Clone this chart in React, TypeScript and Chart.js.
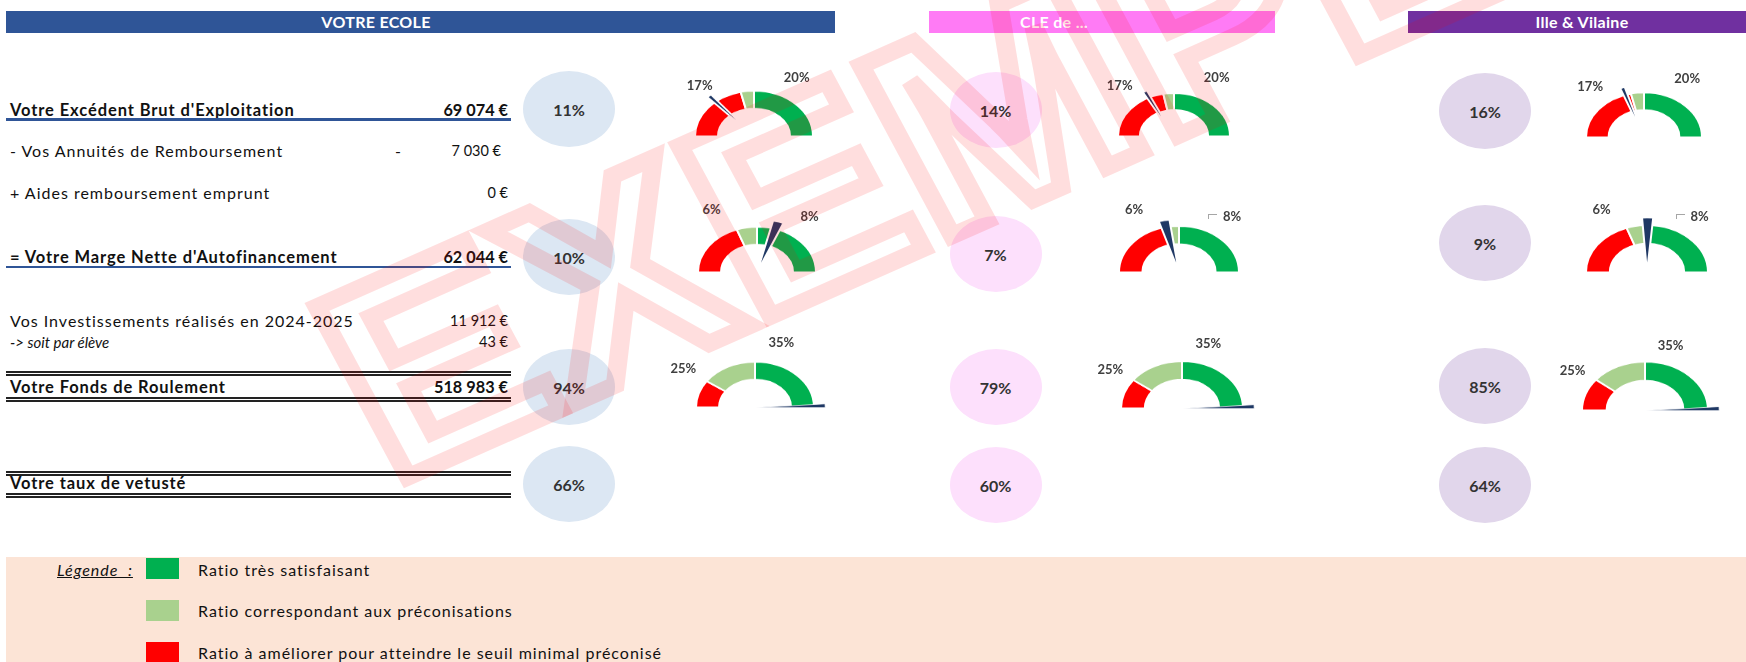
import React, { useEffect, useRef } from "react";
import { Chart, registerables } from "chart.js";

Chart.register(...registerables);

// ---------------- DATA ----------------
const columnTitles = ["VOTRE ECOLE", "CLE de ...", "Ille & Vilaine"];

const rowLabels = [
  "Votre Excédent Brut d'Exploitation",
  "- Vos Annuités de Remboursement",
  "+ Aides remboursement emprunt",
  "= Votre Marge Nette d'Autofinancement",
  "Vos Investissements réalisés en 2024-2025",
  "-> soit par élève",
  "Votre Fonds de Roulement",
  "Votre taux de vetusté",
];
const rowAmounts = ["69 074 €", "7 030 €", "0 €", "62 044 €", "11 912 €", "43 €", "518 983 €", ""];

// ratio bubbles: EBE, MNA, FR, vétusté (in %)
const ecoleRatios = [11, 10, 94, 66];
const cleRatios = [14, 7, 79, 60];
const ivRatios = [16, 9, 85, 64];

// gauge threshold labels per ratio row
const ebeThresholds = ["17%", "20%"];
const mnaThresholds = ["6%", "8%"];
const frThresholds = ["25%", "35%"];

// arc share (out of 180°) of red / light green / green zones, per column
const ebeZones = [[77, 13, 90], [79, 11, 90], [77, 13, 90]];
const mnaZones = [[70, 20, 90], [79, 11, 90], [70.5, 17, 92.5]];
const frZones = [[35, 55, 90], [37, 53, 90], [39, 51, 90]];

// needle position (out of 180°) per column
const ebeNeedle = [49.5, 63.5, 71.5];
const mnaNeedle = [108, 77.5, 90.5];
const frNeedle = [178, 178, 178];
const needleWidths = [4, 9, 4];

const legendItems = [
  "Ratio très satisfaisant",
  "Ratio correspondant aux préconisations",
  "Ratio à améliorer pour atteindre le seuil minimal préconisé",
];

// ---------------- STYLE ----------------
const RED = "#FF0000";
const LGREEN = "#A9D18E";
const GREEN = "#00B050";
const NAVY = "#1F3864";
const FONT = "Lato, 'Open Sans', sans-serif";
const headerColors = ["#2F5597", "#FF7BF5", "#7030A0"];
const bubbleColors = ["#DCE7F3", "#FDE0FC", "#E1D6EB"];
const legendColors = [GREEN, LGREEN, RED];
const needleBorders = [2, 2, 0.8];

const SQUISH = 0.77;

type GaugeProps = {
  cx: number;
  bottom: number;
  R: number;
  zones: number[];
  needle: number;
  needleWidth: number;
  needleBorder: number;
};

function Gauge({ cx, bottom, R, zones, needle, needleWidth, needleBorder }: GaugeProps) {
  const ringRef = useRef<HTMLCanvasElement>(null);
  const needleRef = useRef<HTMLCanvasElement>(null);
  const Rn = Math.round(R * 1.16);
  const W = 2 * Rn;
  const H = Rn;
  const pad = Rn - Math.round(R);

  useEffect(() => {
    const common: any = {
      responsive: false,
      maintainAspectRatio: false,
      animation: false,
      rotation: -90,
      circumference: 180,
      events: [],
      plugins: { legend: { display: false }, tooltip: { enabled: false } },
    };
    const ring = new Chart(ringRef.current!, {
      type: "doughnut",
      data: {
        labels: legendItems.slice().reverse(),
        datasets: [
          {
            data: zones,
            backgroundColor: [RED, LGREEN, GREEN],
            borderColor: "#ffffff",
            borderWidth: 2,
          },
        ],
      },
      options: {
        ...common,
        cutout: "61%",
        layout: { padding: { left: pad, right: pad, top: pad, bottom: 0 } },
      },
    });
    const start = Math.max(0, needle - needleWidth / 2);
    const end = Math.min(180, start + needleWidth);
    const nd = new Chart(needleRef.current!, {
      type: "pie",
      data: {
        labels: ["", "aiguille", ""],
        datasets: [
          {
            data: [start, end - start, 180 - end],
            backgroundColor: ["rgba(0,0,0,0)", NAVY, "rgba(0,0,0,0)"],
            borderColor: "#ffffff",
            borderWidth: [0, needleBorder, 0],
          },
        ],
      },
      options: { ...common, layout: { padding: 0 } },
    });
    return () => {
      ring.destroy();
      nd.destroy();
    };
  }, []);

  return (
    <div
      style={{
        position: "absolute",
        left: cx - Rn,
        top: bottom - H,
        width: W,
        height: H,
        transform: `scaleY(${SQUISH})`,
        transformOrigin: "bottom",
      }}
    >
      <canvas ref={ringRef} width={W} height={H} style={{ position: "absolute", left: 0, top: 0 }} />
      <canvas ref={needleRef} width={W} height={H} style={{ position: "absolute", left: 0, top: 0 }} />
    </div>
  );
}

function Txt({
  x,
  y,
  children,
  size = 16,
  bold = false,
  italic = false,
  align = "left",
  color = "#111",
  underline = false,
  spacing = 0,
}: any) {
  const w = 600;
  const left = align === "left" ? x : align === "right" ? x - w : x - w / 2;
  return (
    <div
      style={{
        position: "absolute",
        left,
        top: y - 9,
        width: w,
        height: 18,
        lineHeight: "18px",
        fontSize: size,
        fontWeight: bold ? 700 : 400,
        fontStyle: italic ? "italic" : "normal",
        textDecoration: underline ? "underline" : "none",
        textAlign: align,
        letterSpacing: spacing,
        color,
        whiteSpace: "nowrap",
        fontFamily: FONT,
      }}
    >
      {children}
    </div>
  );
}

function HLine({ y, double = false, color = "#2F5597" }: any) {
  if (double) {
    return (
      <>
        <div style={{ position: "absolute", left: 6, width: 505, top: y - 1.7, height: 1.3, background: "#222" }} />
        <div style={{ position: "absolute", left: 6, width: 505, top: y + 1.3, height: 1.3, background: "#222" }} />
      </>
    );
  }
  return <div style={{ position: "absolute", left: 6, width: 505, top: y - 1.2, height: 2.6, background: color }} />;
}

export default function App() {
  const colHeaders = [
    { left: 6, right: 835, textX: 376 },
    { left: 929, right: 1275, textX: 1054 },
    { left: 1408, right: 1746, textX: 1582 },
  ];
  const bubbleX = [569, 995.5, 1485];
  const bubbleY = [
    [109, 257, 387, 484],
    [109.5, 254, 387, 485],
    [111, 243, 386, 485],
  ];
  const ratios = [ecoleRatios, cleRatios, ivRatios];

  const gaugeRows = [
    { zones: ebeZones, needle: ebeNeedle, thr: ebeThresholds, cx: [753.7, 1173.7, 1644.2], bottom: [137.3, 137.3, 138.3], R: [61, 57.5, 60], lab: [[-54, -52], [43, -60]] },
    { zones: mnaZones, needle: mnaNeedle, thr: mnaThresholds, cx: [756.7, 1179.2, 1646.7], bottom: [273.3, 273.3, 273.3], R: [61, 61.5, 62.5], lab: [[-45, -64], [53, -57.5]] },
    { zones: frZones, needle: frNeedle, thr: frThresholds, cx: [755.3, 1182.3, 1644.5], bottom: [408.3, 409.3, 410.7], R: [61, 62.5, 64.5], lab: [[-72, -40.5], [26, -66]] },
  ];

  const leftRows = [
    { y: 110, bold: true, valX: 508 },
    { y: 151, bold: false, valX: 501 },
    { y: 193, bold: false, valX: 508 },
    { y: 257, bold: true, valX: 508 },
    { y: 320.7, bold: false, valX: 508 },
    { y: 341.7, bold: false, valX: 508, italic: true },
    { y: 386.7, bold: true, valX: 508 },
    { y: 482.7, bold: true, valX: 508 },
  ];

  return (
    <div style={{ position: "absolute", left: 0, top: 0, width: 1746, height: 662, background: "#fff", overflow: "hidden", fontFamily: FONT }}>
      {/* headers */}
      {colHeaders.map((h, i) => (
        <div key={i}>
          <div style={{ position: "absolute", left: h.left, top: 11, width: h.right - h.left, height: 22, background: headerColors[i] }} />
          <Txt x={h.textX} y={22} align="center" bold color="#ffffff" size={16} spacing={0.3}>
            {columnTitles[i]}
          </Txt>
        </div>
      ))}

      {/* left table */}
      {rowLabels.map((lab, i) => {
        const row = leftRows[i];
        const size = row.bold ? 16.5 : row.italic ? 15 : 16;
        const spacing = row.bold ? 0.9 : row.italic ? 0 : 1;
        return (
          <div key={i}>
            <Txt x={10} y={row.y} bold={row.bold} italic={row.italic} size={size} spacing={spacing}>
              {lab}
            </Txt>
            {rowAmounts[i] && (
              <Txt x={row.valX} y={row.y} align="right" bold={row.bold} size={row.bold ? 16.3 : 14.5}>
                {rowAmounts[i]}
              </Txt>
            )}
          </div>
        );
      })}
      <Txt x={398} y={151} align="center">-</Txt>
      <HLine y={119.5} />
      <HLine y={267} />
      <HLine y={373} double />
      <HLine y={399} double />
      <HLine y={473} double />
      <HLine y={495} double />

      {/* bubbles */}
      {ratios.map((col, c) =>
        col.map((v, r) => (
          <div key={`${c}-${r}`}>
            <div
              style={{
                position: "absolute",
                left: bubbleX[c] - 46,
                top: bubbleY[c][r] - 38,
                width: 92,
                height: 76,
                borderRadius: "50%",
                background: bubbleColors[c],
              }}
            />
            <Txt x={bubbleX[c]} y={bubbleY[c][r] + 1} align="center" size={16} bold color="#333">
              {v}%
            </Txt>
          </div>
        ))
      )}

      {/* gauges */}
      {gaugeRows.map((g, r) =>
        [0, 1, 2].map((c) => (
          <div key={`g${r}${c}`}>
            <Gauge
              cx={g.cx[c]}
              bottom={g.bottom[c]}
              R={g.R[c]}
              zones={g.zones[c]}
              needle={g.needle[c]}
              needleWidth={needleWidths[r]}
              needleBorder={needleBorders[r]}
            />
            {g.thr.map((t, k) => (
              <Txt key={k} x={g.cx[c] + g.lab[k][0]} y={g.bottom[c] + g.lab[k][1]} align="center" size={13} bold color="#404040">
                {t}
              </Txt>
            ))}
            {r === 1 && c > 0 && (
              <div
                style={{
                  position: "absolute",
                  left: g.cx[c] + g.lab[1][0] - 24,
                  top: g.bottom[c] + g.lab[1][1] - 2,
                  width: 8,
                  height: 4,
                  borderTop: "1px solid #A6A6A6",
                  borderLeft: "1px solid #A6A6A6",
                }}
              />
            )}
          </div>
        ))
      )}

      {/* legend */}
      <div style={{ position: "absolute", left: 6, top: 557, width: 1740, height: 105, background: "#FCE4D6" }} />
      <Txt x={57} y={570} italic underline size={16} spacing={1}>
        Légende&nbsp;&nbsp;:
      </Txt>
      {legendItems.map((t, i) => (
        <div key={i}>
          <div style={{ position: "absolute", left: 146, top: [558, 600, 641.5][i], width: 33, height: 21, background: legendColors[i] }} />
          <Txt x={198} y={[570, 611, 652.5][i]} size={16} spacing={1}>
            {t}
          </Txt>
        </div>
      ))}

      {/* watermark */}
      <svg width={1746} height={662} style={{ position: "absolute", left: 0, top: 0, pointerEvents: "none" }}>
        <text
          x={0}
          y={0}
          transform="translate(390 485) scale(1.1 1) rotate(-26)"
          fontSize={275}
          fontFamily="'Liberation Sans', Arial, sans-serif"
          fontWeight="bold"
          fill="none"
          stroke="rgba(255,0,0,0.13)"
          strokeWidth={17}
          strokeLinejoin="miter"
        >
          EXEMPLE
        </text>
      </svg>
    </div>
  );
}
